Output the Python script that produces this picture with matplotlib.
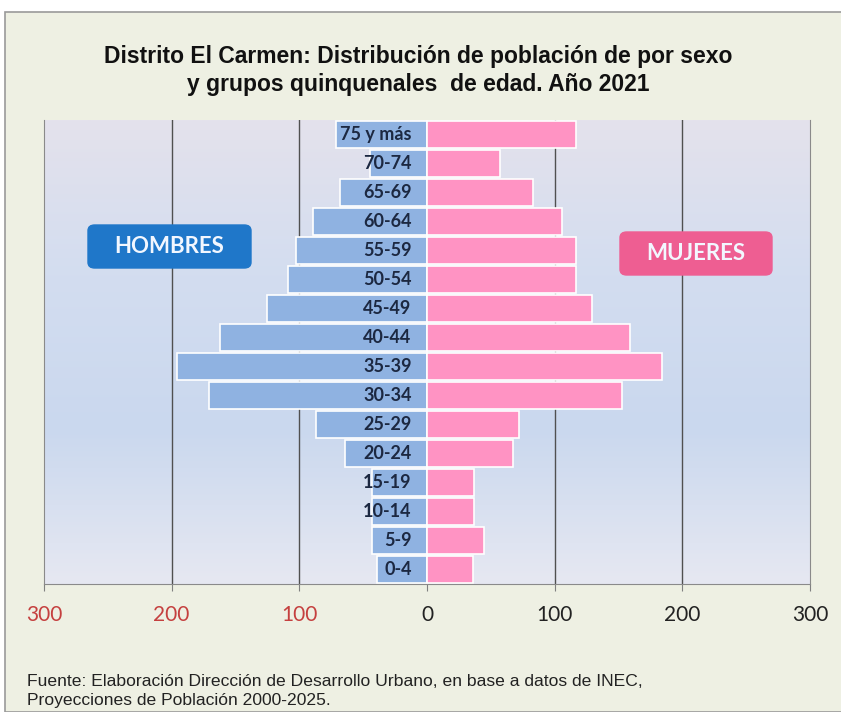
import numpy as np
import matplotlib
matplotlib.use("Agg")
import matplotlib.pyplot as plt
from matplotlib.colors import LinearSegmentedColormap
from matplotlib.patches import FancyBboxPatch, Rectangle

# grupos de edad, de abajo hacia arriba
grupos = ["0-4", "5-9", "10-14", "15-19", "20-24", "25-29", "30-34", "35-39",
          "40-44", "45-49", "50-54", "55-59", "60-64", "65-69", "70-74", "75 y más"]
hombres = [39, 43, 43, 43, 64, 87, 171, 196, 162, 125, 109, 103, 89, 68, 45, 71]
mujeres = [36, 45, 37, 37, 67, 72, 153, 184, 159, 129, 117, 117, 106, 83, 57, 117]
ticks = [-300, -200, -100, 0, 100, 200, 300]
tick_labels = ["300", "200", "100", "0", "100", "200", "300"]

fig = plt.figure(figsize=(8.41, 7.12), dpi=100)
fig.patch.set_facecolor("white")

# marco exterior
fig.patches.append(Rectangle((5 / 841, 0), 1.0, 1 - 12 / 712, transform=fig.transFigure,
                             facecolor="#EEF0E3", edgecolor="#9A9A9A", linewidth=1.2,
                             zorder=-5))

ax = fig.add_axes([44 / 841, 1 - 584 / 712, 766 / 841, 464 / 712])
y = np.arange(len(grupos))

# fondo degradado del area del grafico
cmap = LinearSegmentedColormap.from_list(
    "fondo", ["#E6E8F2", "#CAD8EE", "#D3DDF0", "#E4E2EC"])
grad = np.linspace(0, 1, 200).reshape(-1, 1)
ax.imshow(grad, extent=[-300, 300, -0.5, 15.5], aspect="auto", cmap=cmap,
          origin="lower", zorder=0)

for g in [-200, -100, 100, 200]:
    ax.axvline(g, color="#505050", linewidth=1, zorder=1)

ax.barh(y, -np.array(hombres), height=0.96, color="#8FB2E1",
        edgecolor="white", linewidth=1.2, zorder=2)
ax.barh(y, mujeres, height=0.96, color="#FF93C3",
        edgecolor="white", linewidth=1.2, zorder=2)

for i, g in enumerate(grupos):
    ax.text(-12, i, g, ha="right", va="center", fontsize=13, fontweight="bold",
            family="Lato", color="#1C2841", zorder=3)

ax.set_xlim(-300, 300)
ax.set_ylim(-0.5, 15.5)
ax.set_yticks([])
ax.set_xticks(ticks)
ax.set_xticklabels(tick_labels, fontsize=15, family="Lato")
for lbl, t in zip(ax.get_xticklabels(), ticks):
    lbl.set_color("#C5403F" if t < 0 else "#222222")
ax.tick_params(axis="x", direction="out", length=5, color="#808080", pad=10)
ax.spines["top"].set_visible(False)
for s in ["left", "right", "bottom"]:
    ax.spines[s].set_color("#8A8A8A")

fig.text(418 / 841, 1 - 56 / 712, "Distrito El Carmen: Distribución de población de por sexo",
         ha="center", va="center", fontsize=16.5, fontweight="bold",
         family="Liberation Sans", color="#111111")
fig.text(418 / 841, 1 - 84 / 712, "y grupos quinquenales  de edad. Año 2021",
         ha="center", va="center", fontsize=16.5, fontweight="bold",
         family="Liberation Sans", color="#111111")

# etiquetas tipo boton
for (x0, y0, x1, y1, fc, txt) in [(88, 225, 251, 268, "#1F77C9", "HOMBRES"),
                                  (620, 232, 772, 275, "#EE5E92", "MUJERES")]:
    box = FancyBboxPatch((x0 / 841, 1 - y1 / 712), (x1 - x0) / 841, (y1 - y0) / 712,
                         boxstyle="round,pad=0,rounding_size=0.008",
                         transform=fig.transFigure, facecolor=fc,
                         edgecolor=fc, linewidth=1, zorder=5)
    fig.patches.append(box)
    fig.text((x0 + x1) / 2 / 841, 1 - (y0 + y1) / 2 / 712, txt, ha="center", va="center",
             fontsize=16, fontweight="bold", family="Lato", color="#F2F7FF", zorder=6)

fig.text(27 / 841, 1 - 681 / 712,
         "Fuente: Elaboración Dirección de Desarrollo Urbano, en base a datos de INEC,",
         ha="left", va="center", fontsize=12.6, family="Liberation Sans",
         color="#222222")
fig.text(27 / 841, 1 - 700 / 712, "Proyecciones de Población 2000-2025.",
         ha="left", va="center", fontsize=12.6, family="Liberation Sans",
         color="#222222")

fig.savefig("out.png", dpi=100)
